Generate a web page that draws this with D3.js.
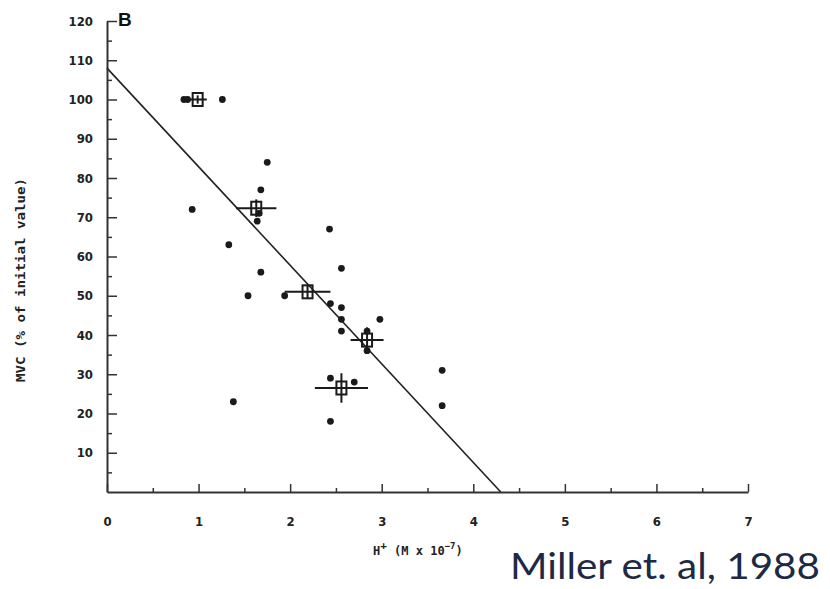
<!DOCTYPE html>
<html>
<head>
<meta charset="utf-8">
<script src="https://cdn.jsdelivr.net/npm/d3@7"></script>
<style>
body { margin: 0; background: #fff; }
.tick text { font-family: "DejaVu Sans Condensed", "DejaVu Sans", sans-serif; font-weight: bold; font-size: 13px; fill: #222; }
</style>
</head>
<body>
<script>
// individual measurements (H+ x 1e-7 M, MVC % of initial)
var dotX = [0.84, 0.88, 1.26, 0.93, 1.75, 1.68, 1.33, 1.68, 1.54, 1.94, 2.43, 2.56, 1.38,
            2.44, 2.56, 2.56, 2.56, 2.98, 2.84, 2.84, 3.66, 3.66, 2.44, 2.70, 2.44, 1.66, 1.64];
var dotY = [100, 100, 100, 72, 84, 77, 63, 56, 50, 50, 67, 57, 23,
            48, 47, 44, 41, 44, 41, 36, 31, 22, 29, 28, 18, 71, 69];

// group means with error bars
var meanX = [0.99, 1.63, 2.19, 2.84, 2.56];
var meanY = [100, 72.3, 51, 38.7, 26.5];
var meanXErr = [0.1, 0.22, 0.25, 0.18, 0.29];
var meanYErr = [0.8, 2, 1.5, 3, 3.5];

// regression line end points
var fitX = [0, 4.3];
var fitY = [108, 0];

var xTicks = [0, 1, 2, 3, 4, 5, 6, 7];
var yTicks = [10, 20, 30, 40, 50, 60, 70, 80, 90, 100, 110, 120];

var margin = {top: 21, right: 82, bottom: 97, left: 107},
    width = 830 - margin.left - margin.right,
    height = 589 - margin.top - margin.bottom;

var x = d3.scaleLinear().domain([0, 7]).range([0, width]);
var y = d3.scaleLinear().domain([0, 120]).range([height, 0]);

var svg = d3.select("body").append("svg")
    .attr("width", 830)
    .attr("height", 589)
  .append("g")
    .attr("transform", "translate(" + margin.left + "," + margin.top + ")");

// minor ticks
svg.append("g")
    .attr("transform", "translate(0," + height + ")")
    .call(d3.axisBottom(x).tickValues(d3.range(0.5, 7, 1)).tickSize(-4).tickFormat(""))
    .call(function(g) { g.select(".domain").remove(); });
svg.append("g")
    .call(d3.axisLeft(y).tickValues(d3.range(5, 120, 10)).tickSize(-5).tickFormat(""))
    .call(function(g) { g.select(".domain").remove(); });

var xAxis = svg.append("g")
    .attr("transform", "translate(0," + height + ")")
    .call(d3.axisBottom(x).tickValues(xTicks).tickFormat(d3.format("d"))
        .tickSize(-8).tickPadding(25).tickSizeOuter(0));
xAxis.selectAll(".tick text").attr("dy", "0.71em");

var yAxis = svg.append("g")
    .call(d3.axisLeft(y).tickValues(yTicks).tickSize(-10).tickPadding(14).tickSizeOuter(0));

svg.selectAll(".domain").attr("stroke", "#333").attr("stroke-width", 2);
svg.selectAll(".tick line").attr("stroke", "#333").attr("stroke-width", 1.5);

// fit line
svg.append("line")
    .attr("x1", x(fitX[0])).attr("y1", y(fitY[0]))
    .attr("x2", x(fitX[1])).attr("y2", y(fitY[1]))
    .attr("stroke", "#222").attr("stroke-width", 1.6);

// dots
svg.selectAll("circle.dot")
    .data(dotX)
  .enter().append("circle")
    .attr("class", "dot")
    .attr("cx", function(d) { return x(d); })
    .attr("cy", function(d, i) { return y(dotY[i]); })
    .attr("r", 3.4)
    .attr("fill", "#1a1a1a");

// means
var m = svg.selectAll("g.mean")
    .data(meanX)
  .enter().append("g")
    .attr("class", "mean");

m.append("line")
    .attr("x1", function(d, i) { return x(d - meanXErr[i]); })
    .attr("x2", function(d, i) { return x(d + meanXErr[i]); })
    .attr("y1", function(d, i) { return y(meanY[i]); })
    .attr("y2", function(d, i) { return y(meanY[i]); })
    .attr("stroke", "#1a1a1a").attr("stroke-width", 2);
m.append("line")
    .attr("x1", function(d) { return x(d); })
    .attr("x2", function(d) { return x(d); })
    .attr("y1", function(d, i) { return y(meanY[i] - meanYErr[i]) + 1; })
    .attr("y2", function(d, i) { return y(meanY[i] + meanYErr[i]) - 1; })
    .attr("stroke", "#1a1a1a").attr("stroke-width", 2);
m.append("rect")
    .attr("x", function(d) { return x(d) - 5; })
    .attr("y", function(d, i) { return y(meanY[i]) - 6.5; })
    .attr("width", 10).attr("height", 13)
    .attr("fill", "none")
    .attr("stroke", "#1a1a1a").attr("stroke-width", 2);

// labels
svg.append("text")
    .attr("x", 11).attr("y", 5)
    .style("font-family", "Liberation Sans, Arial, sans-serif")
    .style("font-weight", "bold").style("font-size", "19px")
    .attr("fill", "#111")
    .text("B");

svg.append("text")
    .attr("transform", "translate(-86," + (280 - margin.top) + ") rotate(-90)")
    .attr("text-anchor", "middle")
    .attr("dy", "0.35em")
    .attr("textLength", 204).attr("lengthAdjust", "spacingAndGlyphs")
    .style("font-family", "DejaVu Sans Mono, monospace")
    .style("font-weight", "bold").style("font-size", "12px")
    .attr("fill", "#222")
    .text("MVC (% of initial value)");

var xt = svg.append("text")
    .attr("x", 266).attr("y", height + 63)
    .style("font-family", "DejaVu Sans Mono, monospace")
    .style("font-weight", "bold").style("font-size", "12px")
    .attr("fill", "#222");
xt.append("tspan").text("H");
xt.append("tspan").attr("dy", -6).style("font-size", "11px").text("+");
xt.append("tspan").attr("dy", 6).text(" (M x 10");
xt.append("tspan").attr("dy", -6).style("font-size", "9px").text("\u22127");
xt.append("tspan").attr("dy", 6).text(")");

svg.append("text")
    .attr("x", 403).attr("y", height + 87)
    .attr("textLength", 310).attr("lengthAdjust", "spacingAndGlyphs")
    .style("font-family", "Lato, Open Sans, sans-serif")
    .style("font-size", "37px")
    .attr("fill", "#1c2a45")
    .text("Miller et. al, 1988");
</script>
</body>
</html>
